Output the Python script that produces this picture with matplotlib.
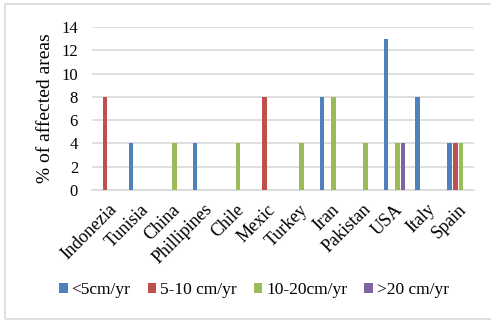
import numpy as np
import matplotlib
matplotlib.use("Agg")
import matplotlib.pyplot as plt
from matplotlib.patches import Rectangle

countries = ["Indonezia", "Tunisia", "China", "Phillipines", "Chile", "Mexic",
             "Turkey", "Iran", "Pakistan", "USA", "Italy", "Spain"]
series = ["<5cm/yr", "5-10 cm/yr", "10-20cm/yr", ">20 cm/yr"]
lt5 = [0, 4, 0, 4, 0, 0, 0, 8, 0, 13, 8, 4]
r5_10 = [8, 0, 0, 0, 0, 8, 0, 0, 0, 0, 0, 4]
r10_20 = [0, 0, 4, 0, 4, 0, 4, 8, 4, 4, 0, 4]
gt20 = [0, 0, 0, 0, 0, 0, 0, 0, 0, 4, 0, 0]
colors = ["#4F81BD", "#C0504D", "#9BBB59", "#8064A2"]

plt.rcParams["font.family"] = ["Liberation Serif", "DejaVu Serif"]

fig = plt.figure(figsize=(4.91, 3.22), dpi=100)
ax = fig.add_axes([92 / 491, 1 - 190 / 322, (474 - 92) / 491, (190 - 27) / 322])

x = np.arange(len(countries))
slot = 0.18
for k, (vals, c) in enumerate(zip([lt5, r5_10, r10_20, gt20], colors)):
    ax.bar(x + (k - 1.5) * slot, vals, width=slot * 0.8, color=c,
           label=series[k], zorder=3)

ax.set_xlim(-0.5, len(countries) - 0.5)
ax.set_ylim(0, 14)
ax.set_yticks(range(0, 15, 2))
ax.yaxis.grid(True, color="#D9D9D9", lw=1.2, zorder=0)
for s in ["top", "right", "left"]:
    ax.spines[s].set_visible(False)
ax.spines["bottom"].set_color("#D9D9D9")
ax.spines["bottom"].set_linewidth(1.2)
ax.tick_params(axis="y", length=0, labelsize=12, pad=10)
ax.set_xticks(x)
ax.set_xticklabels(countries, rotation=45, ha="right", rotation_mode="anchor",
                   fontsize=13)
ax.tick_params(axis="x", length=0, pad=8)
ax.set_ylabel("% of affected areas", fontsize=14, labelpad=5)

fig.legend(loc="center", bbox_to_anchor=(254 / 491, 1 - 290 / 322), ncol=4,
           frameon=False, fontsize=12.5, handlelength=0.48, handleheight=0.48,
           handletextpad=0.22, columnspacing=1.0)

fig.patches.append(Rectangle((5 / 491, 1 - 319 / 322), 1.0, 315 / 322,
                             transform=fig.transFigure, fill=False,
                             edgecolor="#D9D9D9", lw=1.2))

fig.savefig("out.png", dpi=100)
